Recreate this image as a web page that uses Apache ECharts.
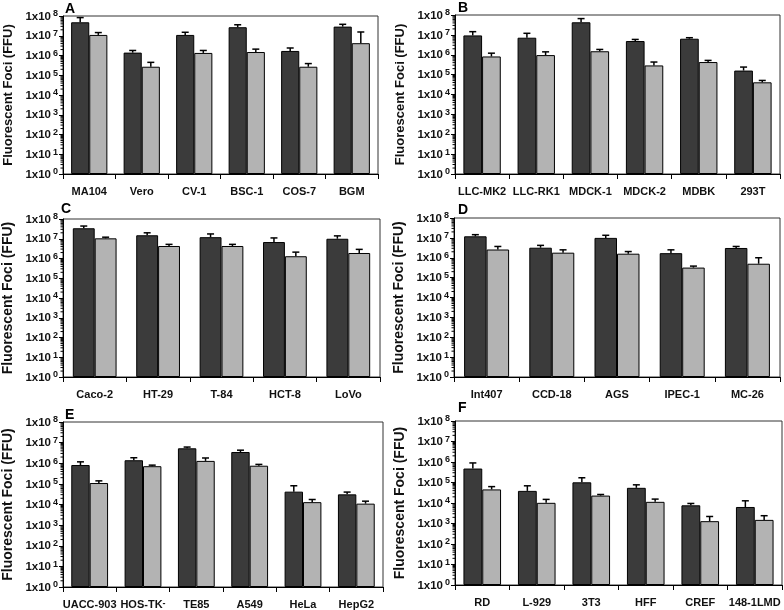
<!DOCTYPE html>
<html>
<head>
<meta charset="utf-8">
<script src="https://cdn.jsdelivr.net/npm/echarts@6/dist/echarts.min.js"></script>
<style>
html,body{margin:0;padding:0;background:#fff;}
#chart{width:784px;height:610px;}
</style>
</head>
<body>
<div id="chart"></div>
<script>
// ---- Data ----
const panelLetters = ['A', 'B', 'C', 'D', 'E', 'F'];

const catsA = ['MA104', 'Vero', 'CV-1', 'BSC-1', 'COS-7', 'BGM'];
const darkA = [4.8e7, 1.4e6, 1.1e7, 2.7e7, 1.7e6, 2.9e7];
const darkErrA = [8.3e7, 1.8e6, 1.5e7, 3.6e7, 2.4e6, 3.8e7];
const lightA = [1.1e7, 2.7e5, 1.35e6, 1.5e6, 2.7e5, 4.2e6];
const lightErrA = [1.45e7, 4.5e5, 1.8e6, 2.1e6, 3.9e5, 1.55e7];

const catsB = ['LLC-MK2', 'LLC-RK1', 'MDCK-1', 'MDCK-2', 'MDBK', '293T'];
const darkB = [9.4e6, 7.2e6, 4.3e7, 4.9e6, 6.4e6, 1.6e5];
const darkErrB = [1.45e7, 1.2e7, 6.6e7, 5.9e6, 7.2e6, 2.4e5];
const lightB = [8.2e5, 9.6e5, 1.5e6, 2.9e5, 4.3e5, 4.1e4];
const lightErrB = [1.2e6, 1.4e6, 1.85e6, 4.3e5, 5.2e5, 5.1e4];

const catsC = ['Caco-2', 'HT-29', 'T-84', 'HCT-8', 'LoVo'];
const darkC = [3.4e7, 1.5e7, 1.2e7, 6.8e6, 1.0e7];
const darkErrC = [4.4e7, 2.0e7, 1.75e7, 1.1e7, 1.4e7];
const lightC = [1.05e7, 4.3e6, 4.3e6, 1.3e6, 1.9e6];
const lightErrC = [1.2e7, 5.2e6, 5.2e6, 2.1e6, 2.9e6];

const catsD = ['Int407', 'CCD-18', 'AGS', 'IPEC-1', 'MC-26'];
const darkD = [1.2e7, 3.2e6, 1.0e7, 1.7e6, 3.1e6];
const darkErrD = [1.45e7, 4.2e6, 1.35e7, 2.5e6, 3.7e6];
const lightD = [2.6e6, 1.8e6, 1.6e6, 3.2e5, 5.0e5];
const lightErrD = [3.7e6, 2.5e6, 2.05e6, 3.8e5, 1.0e6];

const catsE = ['UACC-903', 'HOS-TK⁻', 'TE85', 'A549', 'HeLa', 'HepG2'];
const darkE = [8.2e5, 1.4e6, 5.3e6, 3.5e6, 4.2e4, 3.1e4];
const darkErrE = [1.17e6, 1.85e6, 6.1e6, 4.3e6, 8.1e4, 4.0e4];
const lightE = [1.1e5, 7.2e5, 1.3e6, 7.6e5, 1.3e4, 1.1e4];
const lightErrE = [1.4e5, 8.1e5, 1.8e6, 8.8e5, 1.75e4, 1.45e4];

const catsF = ['RD', 'L-929', '3T3', 'HFF', 'CREF', '148-1LMD'];
const darkF = [4.8e5, 3.9e4, 1.02e5, 5.5e4, 7.7e3, 6.4e3];
const darkErrF = [9.0e5, 6.9e4, 1.7e5, 7.7e4, 9.5e3, 1.28e4];
const lightF = [4.6e4, 1.02e4, 2.3e4, 1.14e4, 1.3e3, 1.5e3];
const lightErrF = [6.3e4, 1.5e4, 2.6e4, 1.55e4, 2.2e3, 2.4e3];

const yMin = 1, yMax = 1e8;
const decades = [0, 1, 2, 3, 4, 5, 6, 7];
const minorMultipliers = [2, 3, 4, 5, 6, 7, 8, 9];
const yTitle = 'Fluorescent Foci (FFU)';

// ---- Layout ----
const panelData = [
  {cats: catsA, dark: darkA, darkErr: darkErrA, light: lightA, lightErr: lightErrA},
  {cats: catsB, dark: darkB, darkErr: darkErrB, light: lightB, lightErr: lightErrB},
  {cats: catsC, dark: darkC, darkErr: darkErrC, light: lightC, lightErr: lightErrC},
  {cats: catsD, dark: darkD, darkErr: darkErrD, light: lightD, lightErr: lightErrD},
  {cats: catsE, dark: darkE, darkErr: darkErrE, light: lightE, lightErr: lightErrE},
  {cats: catsF, dark: darkF, darkErr: darkErrF, light: lightF, lightErr: lightErrF}
];
const gridBoxes = [
  {left: 63, top: 16, width: 315, height: 158, letter: [65, 2], nameSize: 13},
  {left: 455, top: 15, width: 325, height: 159, letter: [458, 1], nameSize: 13},
  {left: 60, top: 219, width: 320, height: 158, letter: [61, 202], nameSize: 14},
  {left: 454, top: 218, width: 326, height: 159, letter: [458, 203], nameSize: 14},
  {left: 63, top: 422, width: 320, height: 165, letter: [65, 408], nameSize: 14},
  {left: 455, top: 421, width: 327, height: 164, letter: [458, 401], nameSize: 14}
];

const DARK = '#3b3b3b', LIGHT = '#b3b3b3';
const GAP = 0.31;
const FONT = 'Liberation Sans, Arial, Helvetica, sans-serif';

function errRender(params, api) {
  const cat = api.value(0), val = api.value(1), top = api.value(2), side = api.value(3);
  const c = api.coord([cat, val]);
  const t = api.coord([cat, top]);
  const band = api.size([1, 1], [cat, val])[0];
  const bw = band * (1 - GAP) / 2;
  const x = c[0] + (side === 0 ? -bw / 2 : bw / 2);
  return {
    type: 'group',
    children: [
      {type: 'line', shape: {x1: x, y1: c[1], x2: x, y2: t[1]}, style: {stroke: '#000', lineWidth: 1.5}},
      {type: 'line', shape: {x1: x - 3.5, y1: t[1], x2: x + 3.5, y2: t[1]}, style: {stroke: '#000', lineWidth: 1.5}}
    ]
  };
}
function minorRender(params, api) {
  const v = api.value(1);
  const c = api.coord([0, v]);
  const band = api.size([1, 1], [0, v])[0];
  const x = c[0] - band / 2;
  return {type: 'line', shape: {x1: x - 2.5, y1: c[1], x2: x, y2: c[1]}, style: {stroke: '#000', lineWidth: 1}};
}

const minorValues = [];
decades.forEach(k => minorMultipliers.forEach(m => minorValues.push([0, m * Math.pow(10, k)])));

const grids = [], xAxes = [], yAxes = [], series = [], titles = [];
panelData.forEach((p, i) => {
  const g = gridBoxes[i];
  grids.push({left: g.left, top: g.top, width: g.width, height: g.height, show: true,
    borderColor: '#333', borderWidth: 1, backgroundColor: 'transparent', containLabel: false});
  xAxes.push({
    type: 'category', gridIndex: i, data: p.cats, boundaryGap: true,
    axisLine: {lineStyle: {color: '#000', width: 1}},
    axisTick: {show: true, length: 5, lineStyle: {color: '#000'}, alignWithLabel: false},
    axisLabel: {
      interval: 0, margin: 12, color: '#111', fontSize: 11, fontWeight: 'bold', fontFamily: FONT,
      formatter: v => v.replace('⁻', '{sup|-}'),
      rich: {sup: {fontSize: 9, fontWeight: 'bold', fontFamily: FONT, color: '#111', verticalAlign: 'top', lineHeight: 6}}
    },
    splitLine: {show: false}
  });
  yAxes.push({
    type: 'log', logBase: 10, gridIndex: i, min: yMin, max: yMax, splitNumber: 8,
    name: yTitle, nameLocation: 'middle', nameGap: 48,
    nameTextStyle: {fontSize: g.nameSize, fontWeight: 'bold', fontFamily: FONT, color: '#111'},
    axisLine: {show: true, lineStyle: {color: '#000', width: 1}},
    axisTick: {show: true, length: 4, lineStyle: {color: '#000'}},
    splitLine: {show: false},
    axisLabel: {
      margin: 5, color: '#111', fontFamily: FONT, fontSize: 11.5, fontWeight: 'bold',
      formatter: v => '{b|1x10}{s|' + Math.round(Math.log10(v)) + '}',
      rich: {
        b: {fontSize: 11.5, fontWeight: 'bold', fontFamily: FONT, color: '#111', lineHeight: 13, verticalAlign: 'bottom'},
        s: {fontSize: 9, fontWeight: 'bold', fontFamily: FONT, color: '#111', lineHeight: 9, padding: [0, 0, 7, 2], verticalAlign: 'top'}
      }
    }
  });
  titles.push({text: panelLetters[i], left: g.letter[0], top: g.letter[1], padding: 0,
    textStyle: {fontSize: 14, fontWeight: 'bold', fontFamily: FONT, color: '#000', lineHeight: 14}});
  series.push({
    type: 'bar', xAxisIndex: i, yAxisIndex: i, data: p.dark, barGap: '0%', barCategoryGap: (GAP * 100) + '%',
    itemStyle: {color: DARK, borderColor: '#000', borderWidth: 1}, silent: true, animation: false
  });
  series.push({
    type: 'bar', xAxisIndex: i, yAxisIndex: i, data: p.light, barGap: '0%', barCategoryGap: (GAP * 100) + '%',
    itemStyle: {color: LIGHT, borderColor: '#000', borderWidth: 1}, silent: true, animation: false
  });
  const errData = [];
  p.cats.forEach((c, j) => {
    errData.push([j, p.dark[j], p.darkErr[j], 0]);
    errData.push([j, p.light[j], p.lightErr[j], 1]);
  });
  series.push({type: 'custom', xAxisIndex: i, yAxisIndex: i, data: errData, renderItem: errRender, z: 5, silent: true, animation: false});
  series.push({type: 'custom', xAxisIndex: i, yAxisIndex: i, data: minorValues, renderItem: minorRender, z: 5, silent: true, animation: false, clip: false});
});

const chart = echarts.init(document.getElementById('chart'), null, {renderer: 'canvas'});
chart.setOption({
  backgroundColor: '#fff',
  animation: false,
  title: titles,
  grid: grids,
  xAxis: xAxes,
  yAxis: yAxes,
  series: series
});
</script>
</body>
</html>
